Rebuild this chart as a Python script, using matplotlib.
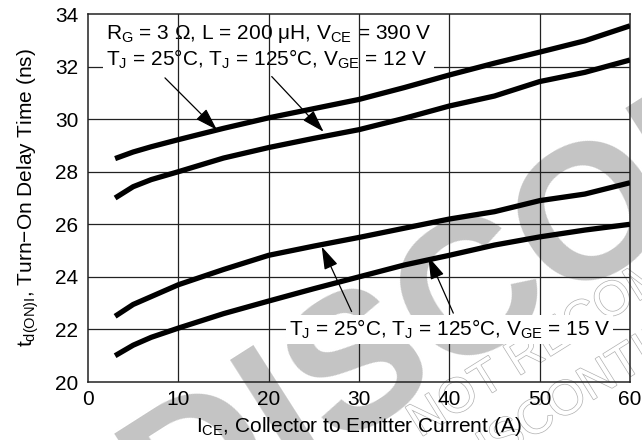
import matplotlib
matplotlib.use("Agg")
import matplotlib.pyplot as plt
import matplotlib.patheffects as pe

plt.rcParams['font.family'] = ['Liberation Sans', 'DejaVu Sans']
plt.rcParams['mathtext.fontset'] = 'custom'
plt.rcParams['mathtext.rm'] = 'Liberation Sans'
plt.rcParams['mathtext.it'] = 'Liberation Sans'
plt.rcParams['mathtext.bf'] = 'Liberation Sans:bold'

# ---- data ----
ice = [3, 5, 7, 10, 15, 20, 25, 30, 35, 40, 45, 50, 55, 60]
td_12v_a = [28.5, 28.75, 28.95, 29.22, 29.65, 30.05, 30.4, 30.75, 31.2, 31.68, 32.13, 32.55, 32.98, 33.55]
td_12v_b = [27.0, 27.43, 27.7, 28.0, 28.52, 28.92, 29.27, 29.6, 30.03, 30.5, 30.88, 31.43, 31.78, 32.25]
td_15v_a = [22.5, 22.95, 23.25, 23.7, 24.28, 24.82, 25.17, 25.5, 25.85, 26.2, 26.48, 26.9, 27.15, 27.58]
td_15v_b = [21.0, 21.4, 21.7, 22.05, 22.6, 23.08, 23.55, 24.0, 24.45, 24.82, 25.21, 25.52, 25.78, 26.0]

xticks = [0, 10, 20, 30, 40, 50, 60]
yticks = [20, 22, 24, 26, 28, 30, 32, 34]

label_top = ("$\\mathregular{R_G}$ = 3 \u03a9, L = 200 \u03bcH, $\\mathregular{V_{CE}}$ = 390 V\n"
             "$\\mathregular{T_J}$ = 25\u00b0C, $\\mathregular{T_J}$ = 125\u00b0C, $\\mathregular{V_{GE}}$ = 12 V")
label_bot = "$\\mathregular{T_J}$ = 25\u00b0C, $\\mathregular{T_J}$ = 125\u00b0C, $\\mathregular{V_{GE}}$ = 15 V"
xlabel = "$\\mathregular{I_{CE}}$, Collector to Emitter Current (A)"
ylabel = "$\\mathregular{t_{d(ON)I}}$, Turn\u2212On Delay Time (ns)"

fig = plt.figure(figsize=(6.42, 4.40), dpi=100)
ax = fig.add_axes([88/642, 1-382/440, 542/642, 368/440])
ax.patch.set_visible(False)

# watermark (behind everything)
fig.text(0.227, -0.145, "DISCONTINUED", fontsize=138, fontweight='bold', color='#c4c4c4',
         rotation=32.5, rotation_mode='anchor', ha='left', va='center', zorder=-5)
for (xx, yy, s) in [(0.654, 0.005, "NOT RECOMMENDED FOR NEW DESIGN"),
                    (0.716, -0.098, "DISCONTINUED")]:
    fig.text(xx, yy, s, fontsize=35, color='white', rotation=32, rotation_mode='anchor',
             ha='left', va='baseline', zorder=-4,
             path_effects=[pe.Stroke(linewidth=1.0, foreground='#b0b0b0'), pe.Normal()])

ax.set_xlim(0, 60)
ax.set_ylim(20, 34)
ax.set_xticks(xticks)
ax.set_yticks(yticks)
ax.tick_params(length=0, labelsize=15, pad=6)
ax.tick_params(axis='y', pad=7)

for y in yticks[1:-1]:
    ax.axhline(y, color='#222222', lw=0.9, zorder=1)
for x in xticks[1:-1]:
    ax.axvline(x, color='#222222', lw=0.9, zorder=2.5)
for s in ax.spines.values():
    s.set_linewidth(1.1)
    s.set_color('#222222')

for yv in (td_12v_a, td_12v_b, td_15v_a, td_15v_b):
    ax.plot(ice, yv, color='black', lw=3.8, solid_capstyle='butt', zorder=4)

ax.text(1.95, 32.75, label_top, fontsize=15, ha='left', va='center', linespacing=1.18,
        zorder=2, bbox=dict(facecolor='white', edgecolor='none', pad=2))
ax.text(22.2, 22.0, label_bot, fontsize=15, ha='left', va='center', zorder=3,
        bbox=dict(facecolor='white', edgecolor='none', pad=2))

arrows = [((8.52, 31.57), (14.28, 29.59)),
          ((20.34, 31.62), (26.08, 29.52)),
          ((29.18, 22.68), (25.87, 25.15)),
          ((40.44, 22.62), (37.67, 24.77))]
for start, tip in arrows:
    ax.annotate("", xy=tip, xytext=start, zorder=5,
                arrowprops=dict(arrowstyle='-|>,head_length=0.7,head_width=0.22',
                                color='black', lw=0.9,
                                mutation_scale=20, shrinkA=0, shrinkB=0))

ax.set_xlabel(xlabel, fontsize=15, labelpad=4)
ax.set_ylabel(ylabel, fontsize=15, labelpad=10)

fig.savefig("out.png", dpi=100)
